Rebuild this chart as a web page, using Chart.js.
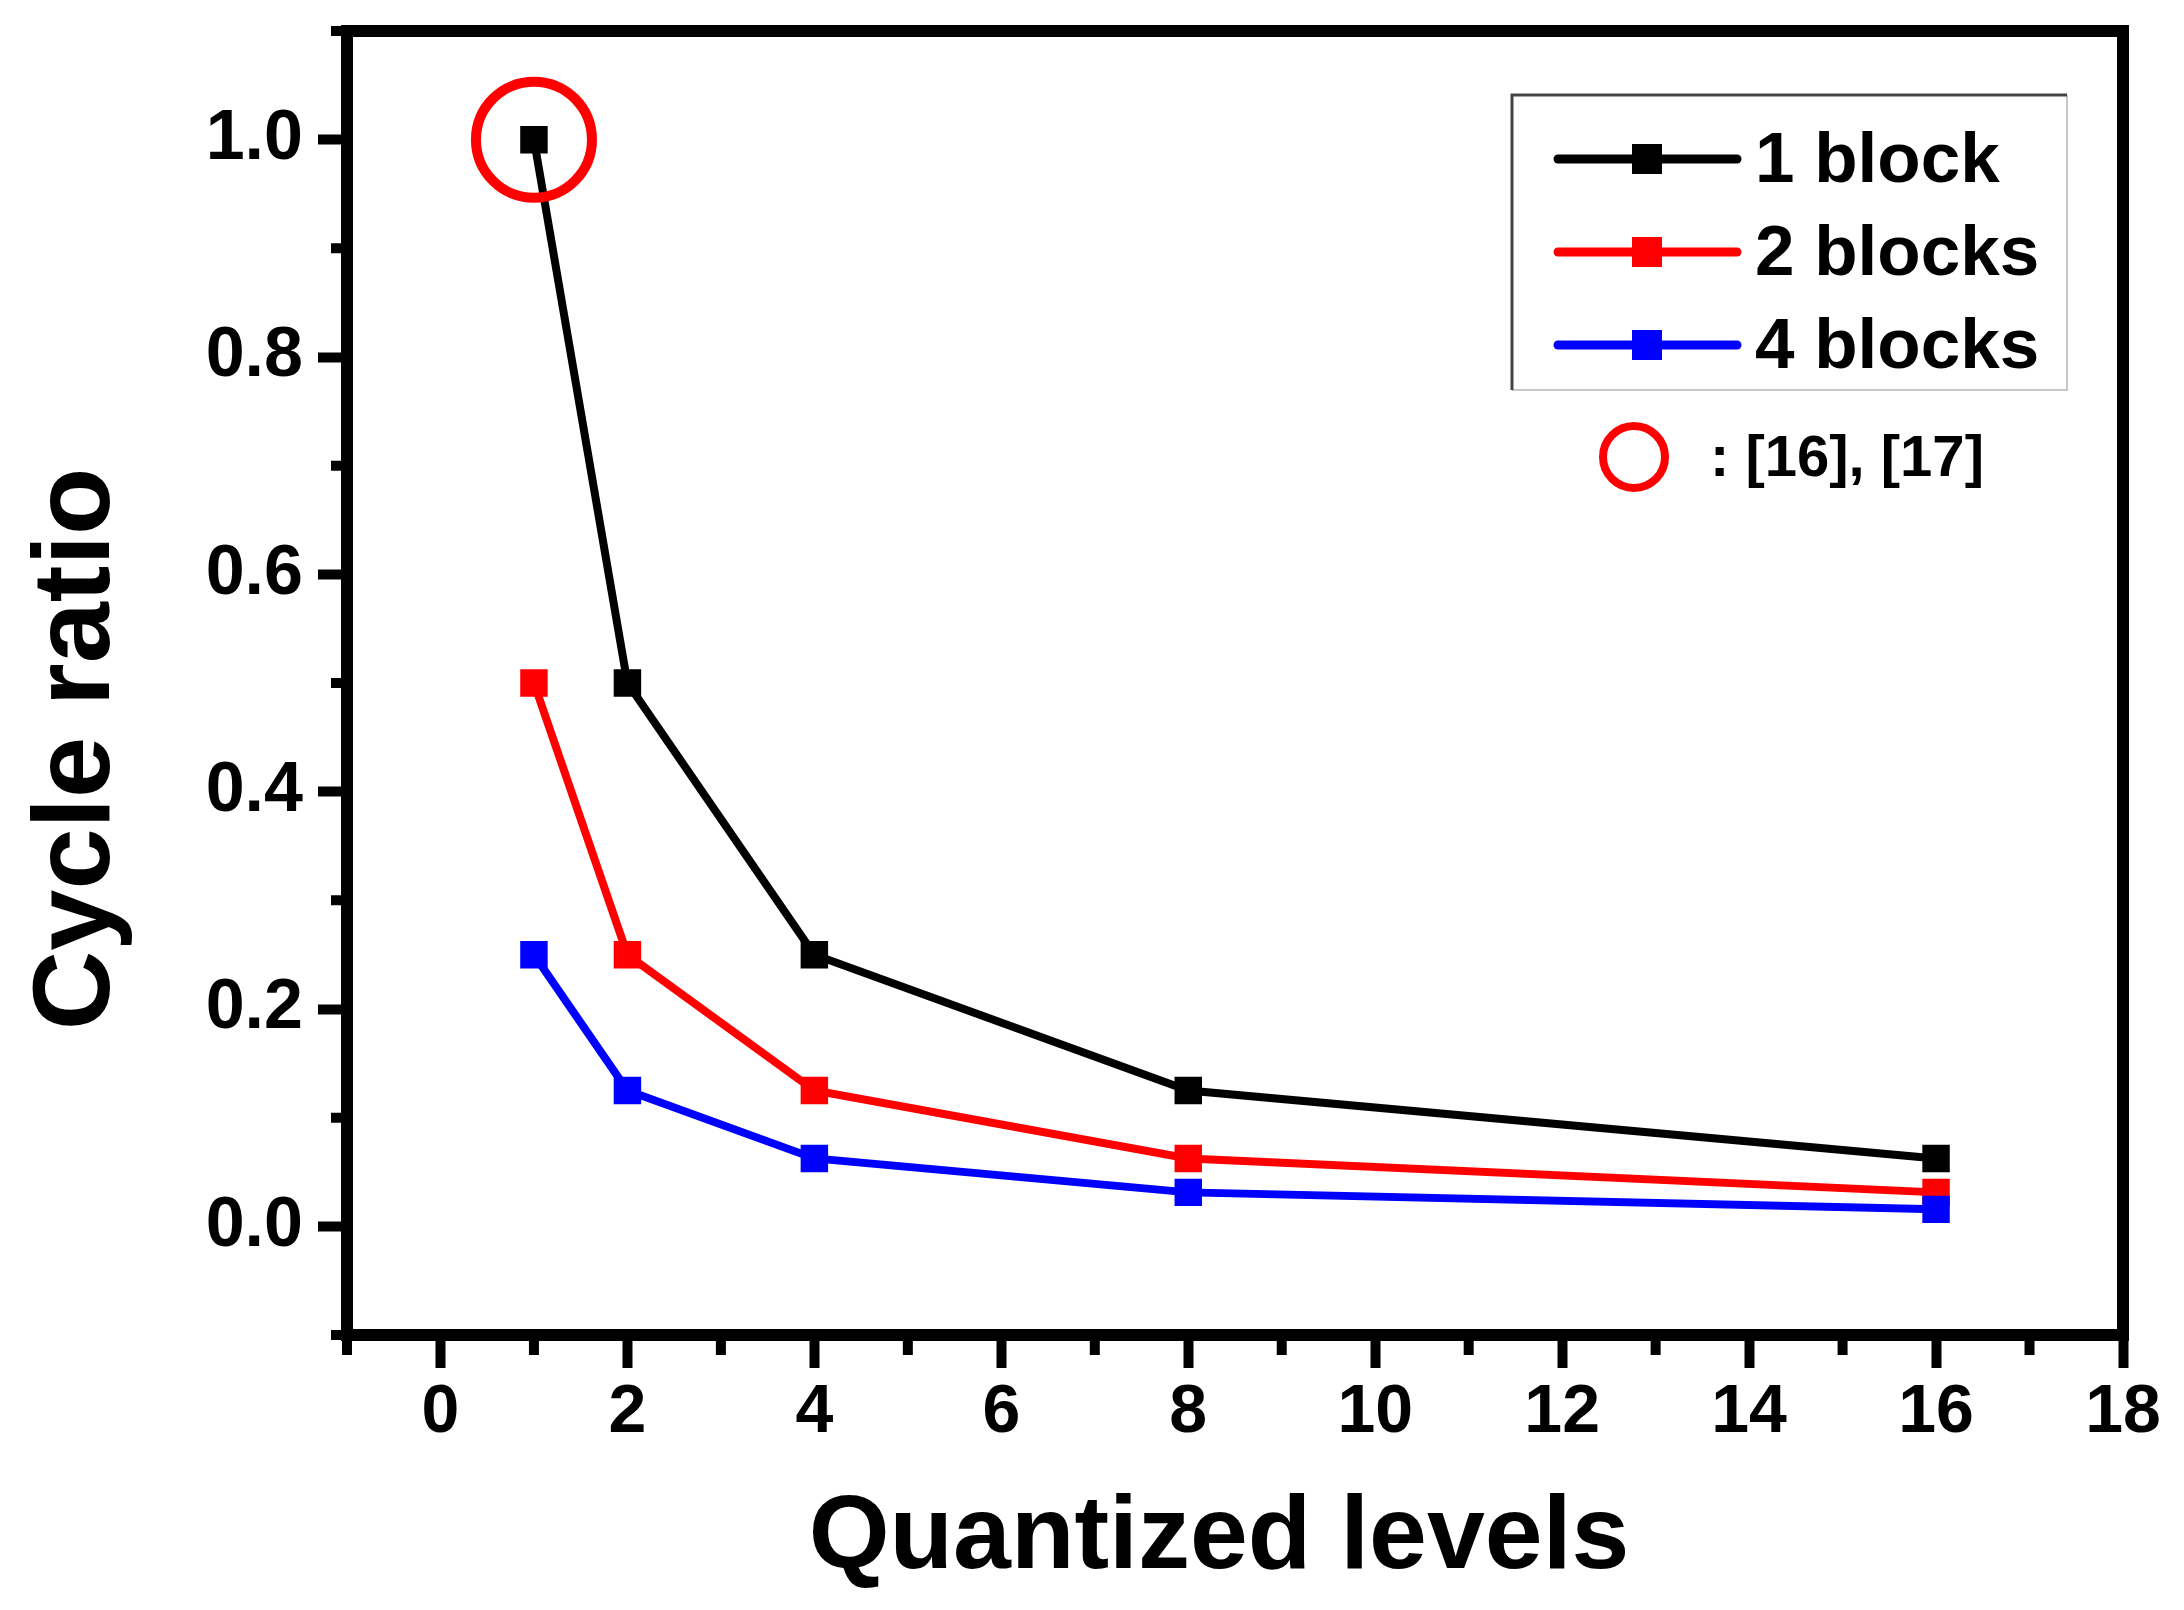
<!DOCTYPE html>
<html><head><meta charset="utf-8">
<script src="https://cdn.jsdelivr.net/npm/chart.js@4"></script>
<style>html,body{margin:0;padding:0;background:#fff;} canvas{display:block;}</style>
</head><body>
<canvas id="c" width="2184" height="1610"></canvas>
<script>
// ---- data ----
const levels = [1, 2, 4, 8, 16];
const oneBlock = [1.0, 0.5, 0.25, 0.125, 0.0625];
const twoBlocks = [0.5, 0.25, 0.125, 0.0625, 0.03125];
const fourBlocks = [0.25, 0.125, 0.0625, 0.03125, 0.015625];
const seriesNames = ['1 block', '2 blocks', '4 blocks'];
const seriesColors = ['#000000', '#ff0000', '#0000ff'];
const xMajorTicks = [0, 2, 4, 6, 8, 10, 12, 14, 16, 18];
const xMinorTicks = [-1, 1, 3, 5, 7, 9, 11, 13, 15, 17];
const yMajorTicks = [0, 0.2, 0.4, 0.6, 0.8, 1.0];
const yMinorTicks = [-0.1, 0.1, 0.3, 0.5, 0.7, 0.9, 1.1];
const xTitle = 'Quantized levels';
const yTitle = 'Cycle ratio';
const highlightPoint = {x: 1, y: 1.0};
const noteText = ': [16], [17]';

const FONT = '"Liberation Sans", Arial, Helvetica, sans-serif';
const toPts = arr => levels.map((lv, i) => ({x: lv, y: arr[i]}));
const seriesValues = [oneBlock, twoBlocks, fourBlocks];

const datasets = seriesValues.map((vals, i) => ({
  label: seriesNames[i],
  data: toPts(vals),
  borderColor: seriesColors[i],
  backgroundColor: seriesColors[i],
  borderWidth: 8,
  pointStyle: 'rect',
  pointRadius: 18,
  pointBorderWidth: 2,
  pointBackgroundColor: seriesColors[i],
  pointBorderColor: seriesColors[i],
  tension: 0,
  order: 3 - i
}));

const deco = {
  id: 'deco',
  afterDraw(chart) {
    const {ctx, chartArea: a} = chart;
    const x = chart.scales.x, y = chart.scales.y;
    ctx.save();
    // frame
    ctx.strokeStyle = '#000';
    ctx.lineWidth = 12;
    ctx.lineJoin = 'miter';
    ctx.strokeRect(a.left, a.top, a.right - a.left, a.bottom - a.top);
    // minor ticks
    ctx.lineWidth = 10;
    ctx.beginPath();
    xMinorTicks.forEach(v => { const px = x.getPixelForValue(v); ctx.moveTo(px, a.bottom); ctx.lineTo(px, a.bottom + 20); });
    yMinorTicks.forEach(v => { const py = y.getPixelForValue(v); ctx.moveTo(a.left, py); ctx.lineTo(a.left - 16, py); });
    ctx.stroke();

    // highlight circle
    ctx.strokeStyle = '#ff0000';
    ctx.lineWidth = 10;
    ctx.beginPath();
    ctx.arc(x.getPixelForValue(highlightPoint.x), y.getPixelForValue(highlightPoint.y), 58, 0, Math.PI * 2);
    ctx.stroke();

    // legend box
    const L = 1512, T = 95, R = 2067, B = 390;
    ctx.fillStyle = '#fff';
    ctx.fillRect(L, T, R - L, B - T);
    ctx.lineWidth = 2;
    ctx.strokeStyle = '#c8c8c8';
    ctx.beginPath(); ctx.moveTo(R, T); ctx.lineTo(R, B); ctx.lineTo(L, B); ctx.stroke();
    ctx.lineWidth = 3;
    ctx.strokeStyle = '#444';
    ctx.beginPath(); ctx.moveTo(L, B); ctx.lineTo(L, T); ctx.lineTo(R, T); ctx.stroke();

    const rowY = [159, 252, 345];
    chart.data.datasets.forEach((ds, i) => {
      const cy = rowY[i];
      ctx.strokeStyle = ds.borderColor;
      ctx.lineWidth = 9;
      ctx.lineCap = 'round';
      ctx.beginPath(); ctx.moveTo(1558, cy); ctx.lineTo(1737, cy); ctx.stroke();
      ctx.lineCap = 'butt';
      ctx.fillStyle = ds.borderColor;
      ctx.fillRect(1647 - 15, cy - 15, 30, 30);
      ctx.fillStyle = '#000';
      ctx.font = 'bold 71px ' + FONT;
      ctx.textAlign = 'left';
      ctx.textBaseline = 'middle';
      ctx.fillText(ds.label, 1755, cy + 3);
    });

    // note
    ctx.strokeStyle = '#ff0000';
    ctx.lineWidth = 8;
    ctx.beginPath(); ctx.arc(1634, 457, 31, 0, Math.PI * 2); ctx.stroke();
    ctx.fillStyle = '#000';
    ctx.font = 'bold 58px ' + FONT;
    ctx.textAlign = 'left';
    ctx.textBaseline = 'middle';
    ctx.fillText(noteText, 1710, 460);

    // axis titles
    ctx.fillStyle = '#000';
    ctx.textAlign = 'center';
    ctx.textBaseline = 'middle';
    ctx.font = 'bold 104px ' + FONT;
    ctx.fillText(xTitle, 1219, 1539);

    ctx.save();
    ctx.translate(79, 749);
    ctx.rotate(-Math.PI / 2);
    ctx.font = 'bold 110px ' + FONT;
    ctx.fillText(yTitle, 0, 0);
    ctx.restore();

    ctx.restore();
  }
};

new Chart(document.getElementById('c'), {
  type: 'line',
  data: {datasets},
  options: {
    responsive: false,
    animation: false,
    devicePixelRatio: 1,
    layout: {padding: {left: 0, top: 31, right: 61, bottom: 0}},
    plugins: {legend: {display: false}, tooltip: {enabled: false}},
    scales: {
      x: {
        type: 'linear',
        min: -1, max: 18,
        afterBuildTicks: s => { s.ticks = xMajorTicks.map(v => ({value: v})); },
        afterFit: s => { s.height = 275; s.paddingLeft = 0; s.paddingRight = 0; },
        border: {display: false},
        grid: {drawOnChartArea: false, drawTicks: true, tickLength: 33, tickWidth: 10, tickColor: '#000'},
        ticks: {autoSkip: false, maxRotation: 0, color: '#000', padding: 11,
          font: {family: FONT, size: 68, weight: 'bold', lineHeight: 1},
          callback: v => String(v)},
        title: {display: false}
      },
      y: {
        type: 'linear',
        min: -0.1, max: 1.1,
        afterBuildTicks: s => { s.ticks = yMajorTicks.map(v => ({value: v})); },
        afterFit: s => { s.width = 347; s.paddingTop = 0; s.paddingBottom = 0; },
        border: {display: false},
        grid: {drawOnChartArea: false, drawTicks: true, tickLength: 29, tickWidth: 10, tickColor: '#000'},
        ticks: {autoSkip: false, color: '#000', padding: 15,
          font: {family: FONT, size: 70, weight: 'bold', lineHeight: 1},
          callback: v => Number(v).toFixed(1)},
        title: {display: false}
      }
    }
  },
  plugins: [deco]
});
</script>
</body></html>
